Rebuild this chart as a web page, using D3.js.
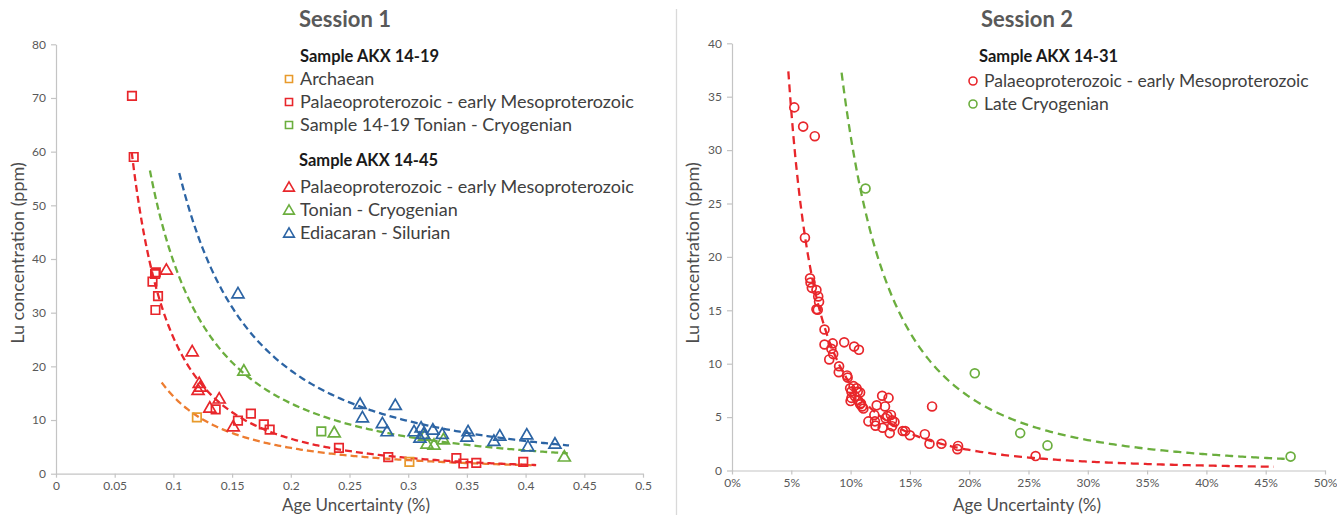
<!DOCTYPE html>
<html><head><meta charset="utf-8">
<script src="https://cdn.jsdelivr.net/npm/d3@7/dist/d3.min.js"></script>
<style>
body{margin:0;background:#fff;}
svg{display:block;font-family:Lato,"Open Sans",sans-serif;}
</style></head>
<body><svg id="c" width="1337" height="515"></svg>
<script>
// ---------- Session 1 data (x = age uncertainty %, y = Lu ppm) ----------
const s1Archaean = [[0.120,10.5],[0.301,2.2]];
const s1PalaeoSq = [[0.0647,70.4],[0.0662,59.0],[0.0822,35.8],[0.0844,37.2],[0.0850,37.5],[0.0847,30.5],[0.0869,33.1],
  [0.136,12.0],[0.155,9.9],[0.166,11.2],[0.177,9.2],[0.182,8.2],[0.241,4.8],[0.283,3.1],[0.341,2.9],[0.347,1.9],[0.358,2.0],[0.398,2.2]];
const s1TonianSq = [[0.226,7.9]];
const s1PalaeoTri = [[0.094,38.0],[0.116,22.8],[0.122,16.9],[0.121,15.6],[0.123,16.2],[0.131,12.3],[0.139,14.0],[0.151,8.8]];
const s1TonianTri = [[0.160,19.2],[0.237,7.7],[0.314,7.1],[0.316,5.6],[0.322,5.4],[0.330,6.4],[0.433,3.2]];
const s1EdiaTri = [[0.155,33.6],[0.259,13.0],[0.261,10.5],[0.289,12.8],[0.278,9.4],[0.282,7.9],[0.305,7.9],[0.311,8.6],
  [0.310,6.7],[0.313,7.4],[0.321,8.2],[0.329,7.4],[0.351,7.9],[0.350,6.9],[0.373,6.1],[0.378,7.1],[0.401,7.3],[0.402,5.1],[0.425,5.6]];
// power trend lines: y = a * x^b over [x0, x1]
const s1Trends = [
  {color:"#ED7D31", a:0.375, b:-1.584, x0:0.090, x1:0.405},
  {color:"#E8262B", a:0.278, b:-1.960, x0:0.0645, x1:0.409},
  {color:"#6BAE3E", a:1.008, b:-1.594, x0:0.080, x1:0.436},
  {color:"#2C64A4", a:1.332, b:-1.659, x0:0.105, x1:0.437}
];
const s1XTicks = [0,0.05,0.1,0.15,0.2,0.25,0.3,0.35,0.4,0.45,0.5];
const s1XLabels = ["0","0.05","0.1","0.15","0.2","0.25","0.3","0.35","0.4","0.45","0.5"];
const s1YTicks = [0,10,20,30,40,50,60,70,80];

// ---------- Session 2 data ----------
const s2Palaeo = [[0.0525,34.0],[0.060,32.2],[0.0698,31.3],[0.0615,21.8],[0.0658,18.0],[0.0662,17.6],[0.0673,17.1],[0.0712,16.9],
  [0.0727,16.3],[0.0734,15.8],[0.0712,15.1],[0.0723,15.05],[0.078,13.2],[0.078,11.8],[0.0849,11.9],[0.0838,11.4],[0.0853,10.9],
  [0.082,10.4],[0.0946,12.0],[0.103,11.6],[0.107,11.3],[0.0903,9.76],[0.090,9.2],[0.097,8.9],[0.0975,8.7],
  [0.0996,7.7],[0.1007,7.4],[0.1025,7.9],[0.105,7.7],[0.106,7.4],[0.1007,6.8],[0.100,6.5],[0.1036,6.95],[0.106,6.6],
  [0.108,7.3],[0.1086,6.3],[0.1097,6.0],[0.1108,5.8],[0.108,6.2],
  [0.115,4.6],[0.1205,4.6],[0.121,4.2],[0.122,6.1],[0.120,5.2],[0.1266,7.0],[0.129,6.0],[0.132,6.8],
  [0.1295,4.9],[0.131,5.1],[0.134,5.2],[0.135,4.7],[0.137,4.55],[0.127,4.0],[0.135,4.15],[0.133,3.5],
  [0.144,3.7],[0.146,3.7],[0.150,3.3],[0.1626,3.4],[0.1665,2.5],[0.1687,6.0],[0.1766,2.5],[0.1906,2.3],[0.190,2.0],[0.256,1.35]];
const s2Cryo = [[0.1126,26.4],[0.2047,9.1],[0.243,3.5],[0.266,2.35],[0.471,1.3]];
const s2Trends = [
  {color:"#E8262B", a:0.0696, b:-2.063, x0:0.0475, x1:0.457},
  {color:"#6BAE3E", a:0.2057, b:-2.183, x0:0.0924, x1:0.466}
];
const s2XTicks = [0,0.05,0.1,0.15,0.2,0.25,0.3,0.35,0.4,0.45,0.5];
const s2XLabels = ["0%","5%","10%","15%","20%","25%","30%","35%","40%","45%","50%"];
const s2YTicks = [0,5,10,15,20,25,30,35,40];

const RED="#E8262B", GREEN="#6BAE3E", BLUE="#2C64A4", ORANGE="#E89A2B";
const svg = d3.select("#c");

// separator
svg.append("line").attr("x1",676.5).attr("x2",676.5).attr("y1",9).attr("y2",515)
  .attr("stroke","#d9d9d9").attr("stroke-width",1.3);

function panel(cfg){
  const x = d3.scaleLinear().domain([0,0.5]).range([cfg.x0,cfg.x1]);
  const y = d3.scaleLinear().domain([0,cfg.ymax]).range([cfg.y0,cfg.y1]);
  const g = svg.append("g");
  // axes
  const xa = g.append("g").attr("transform",`translate(0,${cfg.y0})`)
    .call(d3.axisBottom(x).tickValues(cfg.xt).tickFormat((d,i)=>cfg.xl[i]).tickSizeOuter(0).tickSizeInner(4).tickPadding(4));
  const ya = g.append("g").attr("transform",`translate(${cfg.x0},0)`)
    .call(d3.axisLeft(y).tickValues(cfg.yt).tickSizeOuter(0).tickSizeInner(5).tickPadding(5));
  [xa,ya].forEach(a=>{
    a.select(".domain").attr("stroke","#c4c4c4").attr("stroke-width",1.2);
    a.selectAll(".tick line").attr("stroke","#c4c4c4").attr("stroke-width",1.2);
    a.selectAll("text").attr("fill","#595959").style("font-size","12px").style("font-family","Lato,sans-serif");
  });
  // titles
  g.append("text").attr("x",cfg.tx).attr("y",27).attr("text-anchor","middle")
    .attr("fill","#595959").style("font-size","22px").style("font-weight","bold").text(cfg.title);
  g.append("text").attr("x",cfg.axx).attr("y",511).attr("text-anchor","middle")
    .attr("fill","#4d4d4d").style("font-size","17px").text("Age Uncertainty (%)");
  g.append("text").attr("transform",`translate(${cfg.ayx},253) rotate(-90)`).attr("text-anchor","middle")
    .attr("fill","#4d4d4d").style("font-size","18px").text("Lu concentration (ppm)");
  // trends
  const line = d3.line().x(d=>x(d[0])).y(d=>y(d[1]));
  cfg.trends.forEach(t=>{
    const pts = d3.range(0,201).map(i=>{const xv=t.x0+(t.x1-t.x0)*i/200; return [xv, t.a*Math.pow(xv,t.b)];});
    g.append("path").attr("d",line(pts)).attr("fill","none").attr("stroke",t.color)
      .attr("stroke-width",2.3).attr("stroke-dasharray",cfg.dash);
  });
  return {x,y,g};
}

function marks(p, data, shape, color){
  const sym = shape==="square"?d3.symbolSquare:(shape==="triangle"?d3.symbolTriangle:d3.symbolCircle);
  const size = shape==="square"?72:(shape==="triangle"?62:62);
  p.g.append("g").selectAll("path").data(data).join("path")
    .attr("transform",d=>`translate(${p.x(d[0])},${p.y(d[1])+(shape==="triangle"?1:0)})`)
    .attr("d",d3.symbol().type(sym).size(size))
    .attr("fill","none").attr("stroke",color).attr("stroke-width",1.7);
}

function legendItem(x,y,shape,color,text,fs){
  const sym = shape==="square"?d3.symbolSquare:(shape==="triangle"?d3.symbolTriangle:d3.symbolCircle);
  svg.append("path").attr("transform",`translate(${x},${y-6+(shape==="triangle"?1:0)})`)
    .attr("d",d3.symbol().type(sym).size(50)).attr("fill","none").attr("stroke",color).attr("stroke-width",1.6);
  svg.append("text").attr("x",x+11).attr("y",y).attr("fill","#404040").style("font-size",fs+"px").text(text);
}
function legendHead(x,y,text){
  svg.append("text").attr("x",x).attr("y",y).attr("fill","#1a1a1a").style("font-size","16.5px")
    .style("font-weight","bold").text(text);
}

// ---------- Session 1 ----------
const p1 = panel({x0:56,x1:643,y0:473.7,y1:44.3,ymax:80,xt:s1XTicks,xl:s1XLabels,yt:s1YTicks,
  title:"Session 1",tx:345,axx:356,ayx:24,trends:s1Trends,dash:"7,4"});
marks(p1,s1Archaean,"square",ORANGE);
marks(p1,s1PalaeoSq,"square",RED);
marks(p1,s1TonianSq,"square",GREEN);
marks(p1,s1PalaeoTri,"triangle",RED);
marks(p1,s1TonianTri,"triangle",GREEN);
marks(p1,s1EdiaTri,"triangle",BLUE);

legendHead(300,62,"Sample AKX 14-19");
legendItem(289,85,"square",ORANGE,"Archaean",18);
legendItem(289,108,"square",RED,"Palaeoproterozoic - early Mesoproterozoic",18);
legendItem(289,131,"square",GREEN,"Sample 14-19 Tonian - Cryogenian",18);
legendHead(299,166,"Sample AKX 14-45");
legendItem(289,193,"triangle",RED,"Palaeoproterozoic - early Mesoproterozoic",18);
legendItem(289,216,"triangle",GREEN,"Tonian - Cryogenian",18);
legendItem(289,239,"triangle",BLUE,"Ediacaran - Silurian",18);

// ---------- Session 2 ----------
const p2 = panel({x0:732,x1:1325,y0:470.5,y1:43.3,ymax:40,xt:s2XTicks,xl:s2XLabels,yt:s2YTicks,
  title:"Session 2",tx:1027,axx:1027,ayx:699,trends:s2Trends,dash:"8,5"});
marks(p2,s2Palaeo,"circle",RED);
marks(p2,s2Cryo,"circle",GREEN);

legendHead(979,62,"Sample AKX 14-31");
legendItem(973,87,"circle",RED,"Palaeoproterozoic - early  Mesoproterozoic",17.5);
legendItem(973,110,"circle",GREEN,"Late Cryogenian",17.5);
</script></body></html>
